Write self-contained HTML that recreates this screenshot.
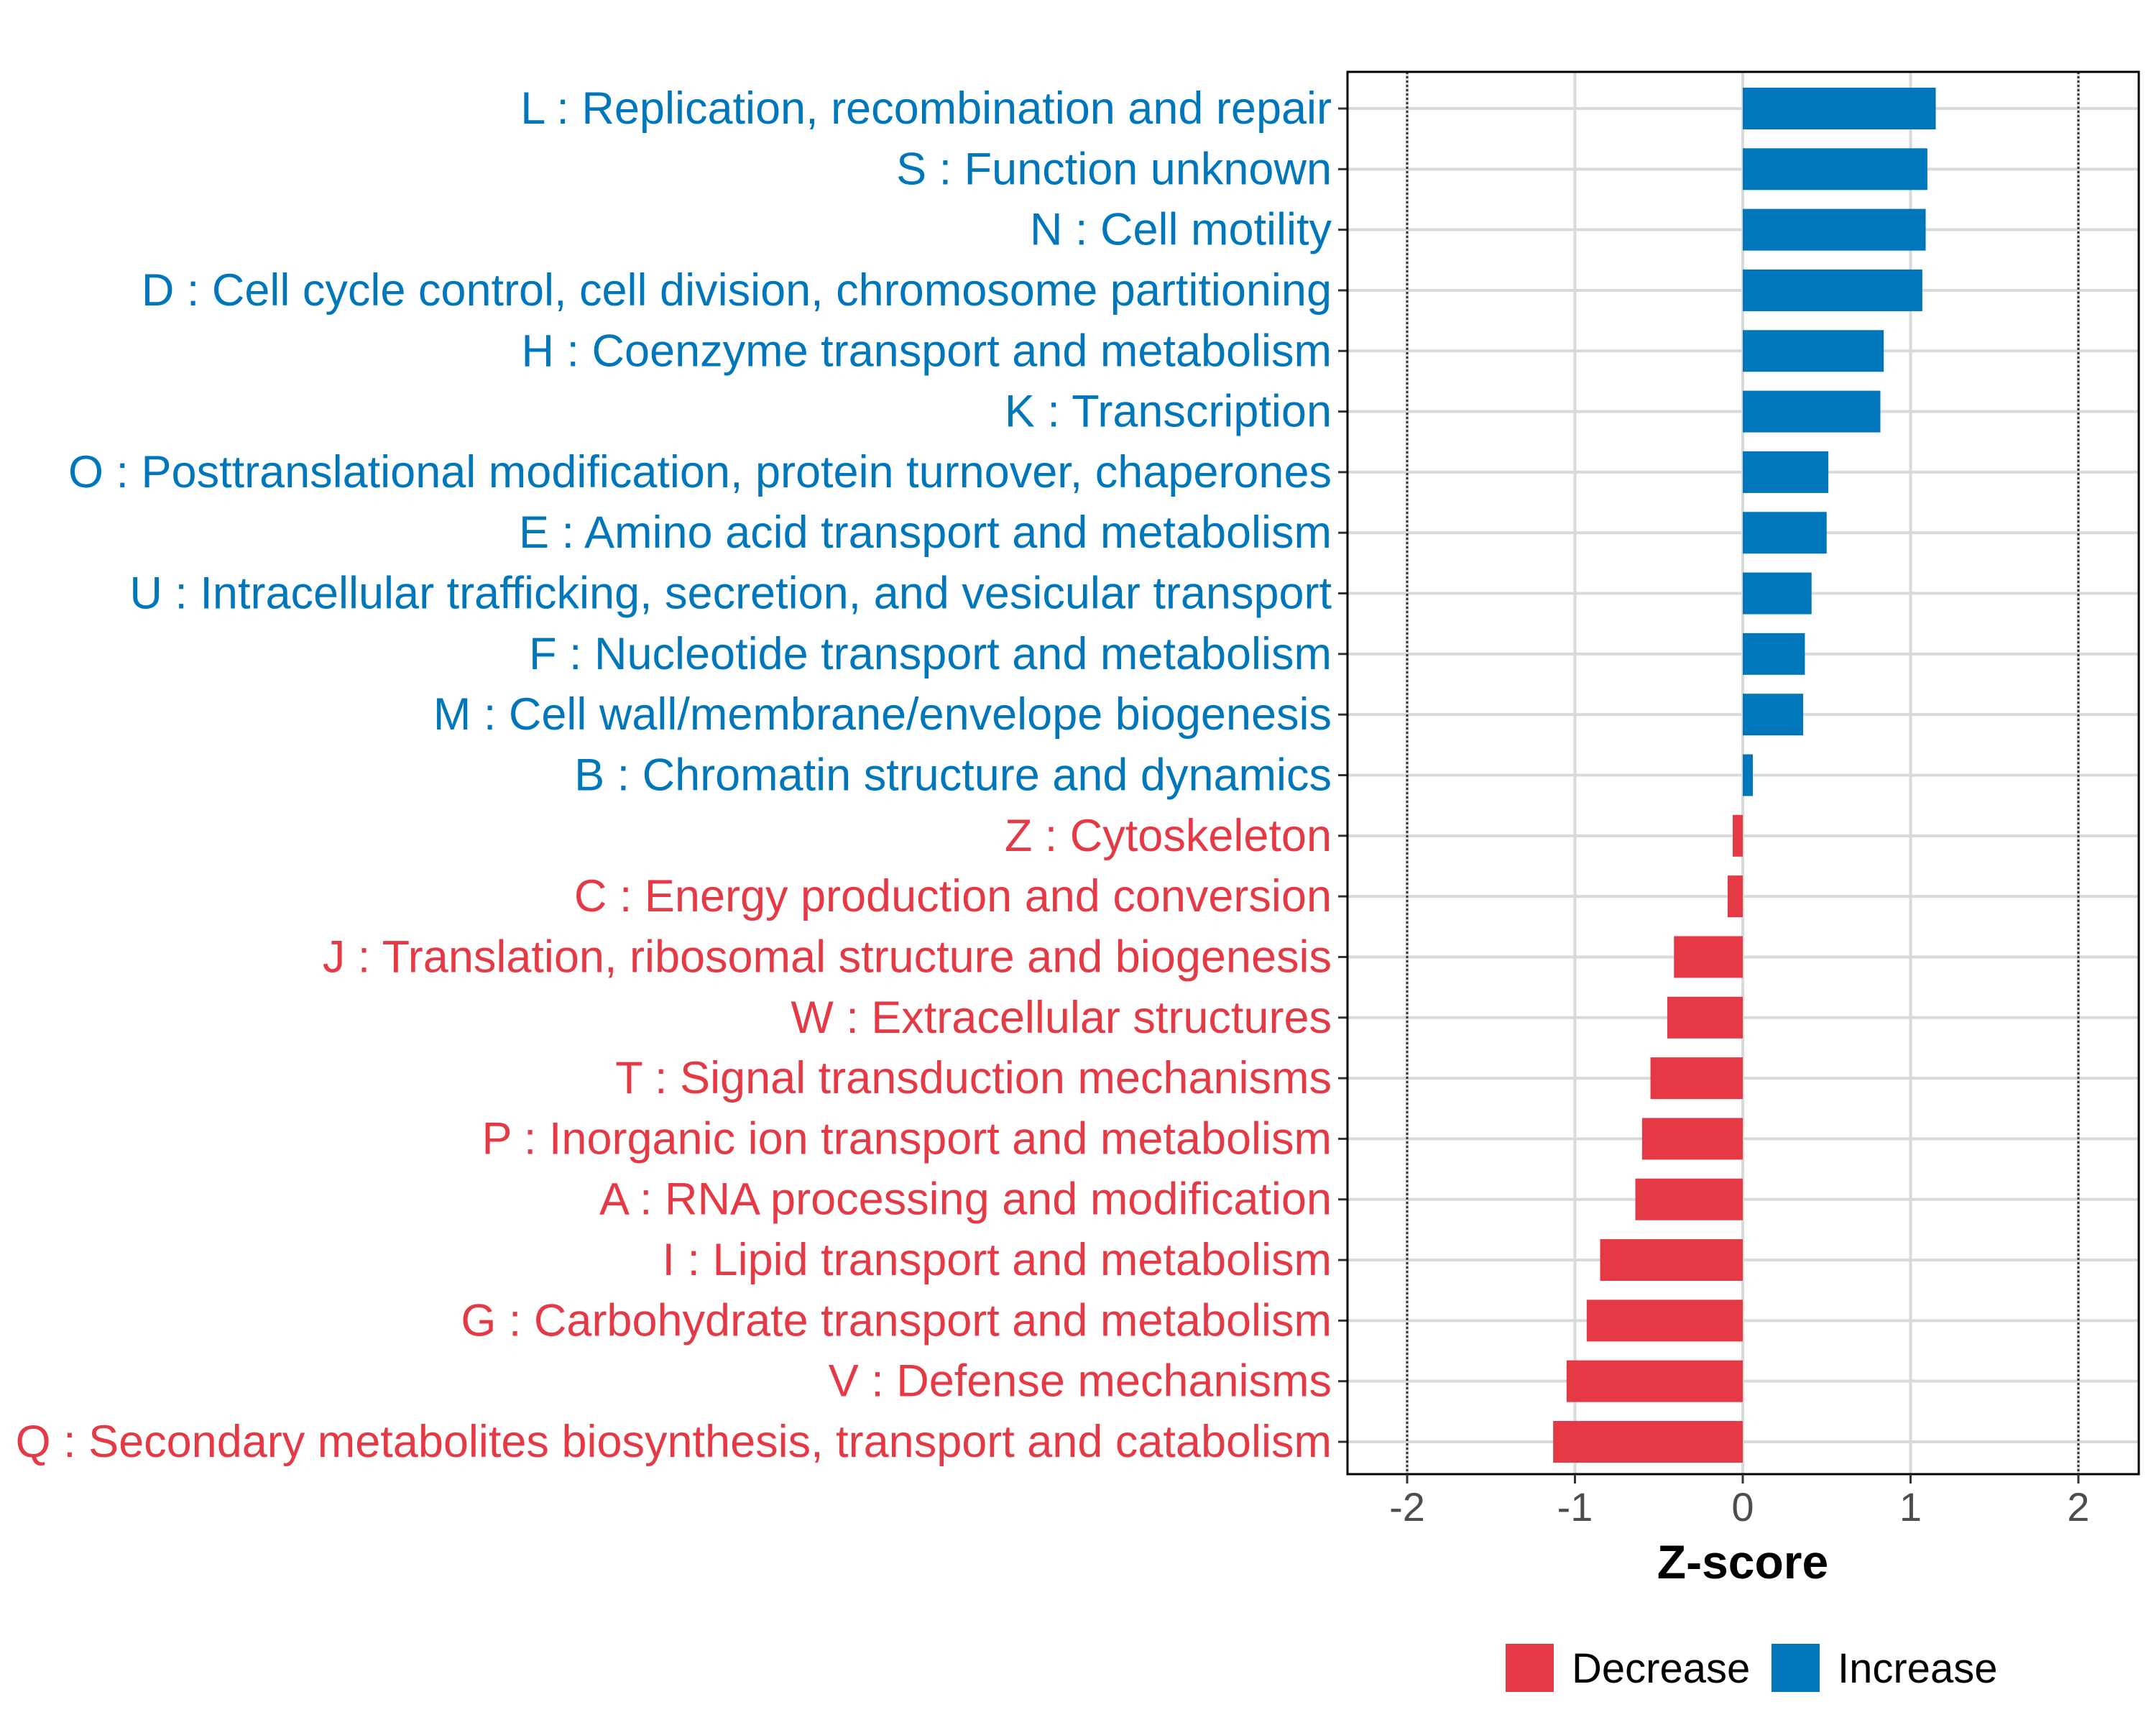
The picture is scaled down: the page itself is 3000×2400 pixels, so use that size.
<!DOCTYPE html>
<html><head><meta charset="utf-8"><style>html,body{margin:0;padding:0;background:#fff}svg{display:block}</style></head>
<body>
<svg id="chart" width="3000" height="2400" xmlns="http://www.w3.org/2000/svg" font-family="Liberation Sans, sans-serif"></svg>
<script>
const categories=["L : Replication, recombination and repair","S : Function unknown","N : Cell motility","D : Cell cycle control, cell division, chromosome partitioning","H : Coenzyme transport and metabolism","K : Transcription","O : Posttranslational modification, protein turnover, chaperones","E : Amino acid transport and metabolism","U : Intracellular trafficking, secretion, and vesicular transport","F : Nucleotide transport and metabolism","M : Cell wall/membrane/envelope biogenesis","B : Chromatin structure and dynamics","Z : Cytoskeleton","C : Energy production and conversion","J : Translation, ribosomal structure and biogenesis","W : Extracellular structures","T : Signal transduction mechanisms","P : Inorganic ion transport and metabolism","A : RNA processing and modification","I : Lipid transport and metabolism","G : Carbohydrate transport and metabolism","V : Defense mechanisms","Q : Secondary metabolites biosynthesis, transport and catabolism"];
const zscores=[1.15,1.10,1.09,1.07,0.84,0.82,0.51,0.50,0.41,0.37,0.36,0.06,-0.06,-0.09,-0.41,-0.45,-0.55,-0.60,-0.64,-0.85,-0.93,-1.05,-1.13];
const xTicks=[-2,-1,0,1,2];
const xTickLabels=["-2","-1","0","1","2"];
const legendLabels=["Decrease","Increase"];

const NS="http://www.w3.org/2000/svg";
const svg=document.getElementById('chart');
const BLUE="#0077bb",RED="#e63946";
const L=1875,R=2976,T=100,B=2051;
const x=v=>2425+v*233.5;
const y=i=>151+i*((2006-151)/(categories.length-1));
function el(tag,a,p){const e=document.createElementNS(NS,tag);for(const k in a)e.setAttribute(k,a[k]);(p||svg).appendChild(e);return e;}

xTicks.forEach((t,i)=>{const g=el('line',{x1:x(t),x2:x(t),y1:T,y2:B,stroke:'#d9d9d9','stroke-width':4});

});
categories.forEach((c,i)=>{const g=el('line',{x1:L,x2:R,y1:y(i),y2:y(i),stroke:'#d9d9d9','stroke-width':4});

});
[-2,2].forEach(t=>{const g=el('line',{x1:x(t),x2:x(t),y1:T,y2:B,stroke:'#333','stroke-width':3,'stroke-dasharray':'3,3'});

});
categories.forEach((c,i)=>{const v=zscores[i];const col=v>=0?BLUE:RED;
const r=el('rect',{x:Math.min(x(0),x(v)),y:y(i)-29,width:Math.abs(x(v)-x(0)),height:58,fill:col});


const tk=el('line',{x1:L-13,x2:L,y1:y(i),y2:y(i),stroke:'#333','stroke-width':3});


const tx=el('text',{x:L-22,y:y(i)+21,'text-anchor':'end','font-size':63,fill:col});tx.textContent=c;

});
const fr=el('rect',{x:L,y:T,width:R-L,height:B-T,fill:'none',stroke:'#000','stroke-width':3});


xTicks.forEach((t,i)=>{const tk=el('line',{x1:x(t),x2:x(t),y1:B,y2:B+13,stroke:'#333','stroke-width':3});


const tx=el('text',{x:x(t),y:B+65,'text-anchor':'middle','font-size':56,fill:'#4d4d4d'});tx.textContent=xTickLabels[i];

});
const xt=el('text',{x:x(0),y:2196,'text-anchor':'middle','font-size':66,'font-weight':'bold',fill:'#000'});xt.textContent="Z-score";


[[2095,RED],[2465,BLUE]].forEach((p,i)=>{const k=el('rect',{x:p[0],y:2287,width:67,height:67,fill:p[1]});


const t=el('text',{x:p[0]+92,y:2341,'font-size':58,fill:'#000'});t.textContent=legendLabels[i];

});
</script>
</body></html>
